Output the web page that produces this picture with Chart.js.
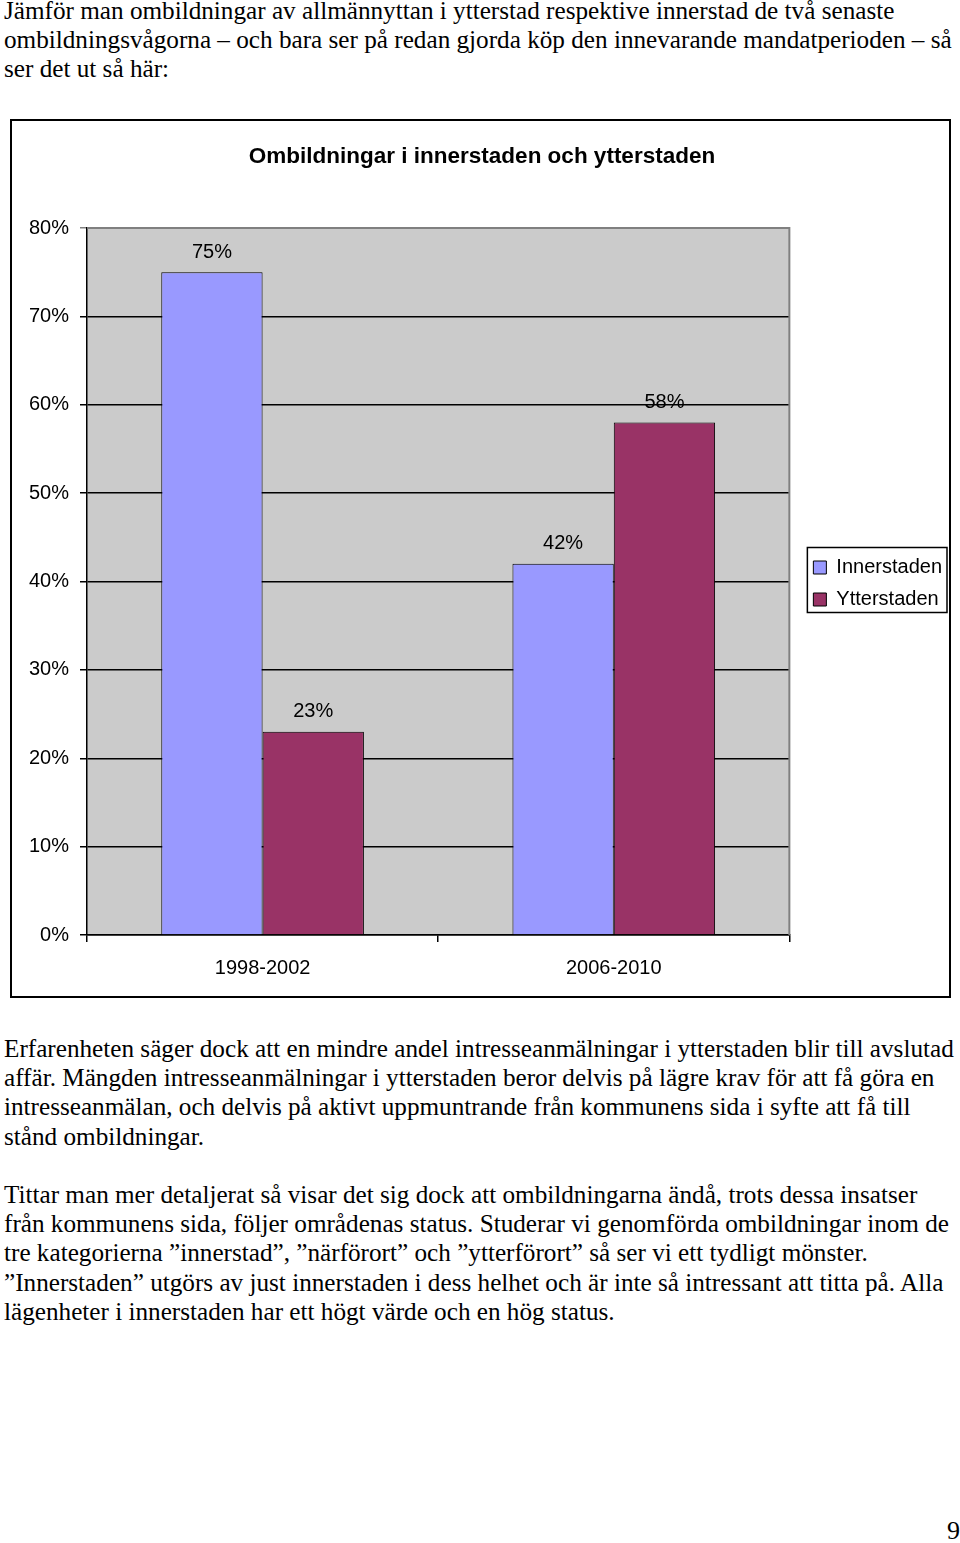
<!DOCTYPE html>
<html lang="sv">
<head>
<meta charset="utf-8">
<title>Ombildningar i innerstaden och ytterstaden</title>
<script src="https://cdn.jsdelivr.net/npm/chart.js@4.4.1/dist/chart.umd.min.js"></script>
<style>
    html, body { margin: 0; padding: 0; background: #fff; }
    body { width: 960px; height: 1543px; position: relative; overflow: hidden; }
    .txt {
        position: absolute; left: 4px;
        font-family: "Liberation Serif", "Times New Roman", serif;
        font-size: 25.2px; line-height: 29.2px; color: #000;
        white-space: nowrap;
    }
    #box {
        position: absolute; left: 10px; top: 119px;
        width: 941px; height: 879px;
        border: 2px solid #000; box-sizing: border-box;
    }
    #box canvas { display: block; }
    #pagenr {
        position: absolute; left: 947px; top: 1516px;
        font-family: "Liberation Serif", serif; font-size: 26px;
    }
</style>
</head>
<body>
<div class="txt" style="top:-4px">
    Jämför man ombildningar av allmännyttan i ytterstad respektive innerstad de två senaste<br>
    ombildningsvågorna – och bara ser på redan gjorda köp den innevarande mandatperioden – så<br>
    ser det ut så här:
</div>

<div id="box"><canvas id="chart" width="937" height="875"></canvas></div>

<div class="txt" style="top:1034px">
    Erfarenheten säger dock att en mindre andel intresseanmälningar i ytterstaden blir till avslutad<br>
    affär. Mängden intresseanmälningar i ytterstaden beror delvis på lägre krav för att få göra en<br>
    intresseanmälan, och delvis på aktivt uppmuntrande från kommunens sida i syfte att få till<br>
    stånd ombildningar.
</div>

<div class="txt" style="top:1180px">
    Tittar man mer detaljerat så visar det sig dock att ombildningarna ändå, trots dessa insatser<br>
    från kommunens sida, följer områdenas status. Studerar vi genomförda ombildningar inom de<br>
    tre kategorierna ”innerstad”, ”närförort” och ”ytterförort” så ser vi ett tydligt mönster.<br>
    ”Innerstaden” utgörs av just innerstaden i dess helhet och är inte så intressant att titta på. Alla<br>
    lägenheter i innerstaden har ett högt värde och en hög status.
</div>

<div id="pagenr">9</div>

<script>
const periods = ["1998-2002", "2006-2010"];
const innerstaden = [75, 42];
const ytterstaden = [23, 58];
const yTicks = [0, 10, 20, 30, 40, 50, 60, 70, 80];

const FONT = "'Liberation Sans', Arial, sans-serif";

// grey plot area with grey top/right frame, as in the old Excel chart
const plotBackground = {
    id: "plotBackground",
    beforeDraw(chart) {
        const { ctx, chartArea: a } = chart;
        ctx.save();
        ctx.fillStyle = "#cbcbcb";
        ctx.fillRect(a.left, a.top, a.right - a.left, a.bottom - a.top);
        ctx.restore();
    },
    beforeDatasetsDraw(chart) {
        const { ctx, chartArea: a } = chart;
        ctx.save();
        ctx.strokeStyle = "#808080";
        ctx.lineWidth = 2;
        ctx.beginPath();
        ctx.moveTo(a.left, a.top);
        ctx.lineTo(a.right, a.top);
        ctx.lineTo(a.right, a.bottom);
        ctx.stroke();
        ctx.restore();
    }
};

const barLabels = {
    id: "barLabels",
    afterDatasetsDraw(chart) {
        const { ctx } = chart;
        ctx.save();
        ctx.font = "20px " + FONT;
        ctx.fillStyle = "#000";
        ctx.textAlign = "center";
        ctx.textBaseline = "middle";
        chart.data.datasets.forEach((ds, i) => {
            chart.getDatasetMeta(i).data.forEach((bar, j) => {
                ctx.fillText(ds.data[j] + "%", bar.x, bar.y - 20);
            });
        });
        ctx.restore();
    }
};

// nudge title and legend into place and draw a frame round the legend
const legendFrame = {
    id: "legendFrame",
    afterLayout(chart) {
        const lg = chart.legend;
        const dx = 12, dy = 26;
        lg.left += dx; lg.right += dx;
        lg.top += dy; lg.bottom += dy;
        const tb = chart.titleBlock;
        if (tb) { tb.left += 6; tb.right += 6; }
    },
    afterDraw(chart) {
        const lg = chart.legend;
        if (!lg || !lg.legendHitBoxes.length) return;
        const boxes = lg.legendHitBoxes;
        const x0 = Math.min(...boxes.map(b => b.left)) - 6;
        const y0 = Math.min(...boxes.map(b => b.top)) - 10;
        const x1 = Math.max(...boxes.map(b => b.left + b.width)) + 5;
        const y1 = Math.max(...boxes.map(b => b.top + b.height)) + 3;
        const ctx = chart.ctx;
        ctx.save();
        ctx.strokeStyle = "#000";
        ctx.lineWidth = 1.5;
        ctx.strokeRect(x0, y0, x1 - x0, y1 - y0);
        ctx.restore();
    }
};

new Chart(document.getElementById("chart"), {
    type: "bar",
    data: {
        labels: periods,
        datasets: [
            {
                label: "Innerstaden",
                data: innerstaden,
                backgroundColor: "#9999ff",
                borderColor: "#000",
                borderWidth: 1
            },
            {
                label: "Ytterstaden",
                data: ytterstaden,
                backgroundColor: "#993366",
                borderColor: "#000",
                borderWidth: 1
            }
        ]
    },
    options: {
        responsive: false,
        animation: false,
        layout: { padding: { left: 0, right: 9, top: 0, bottom: 2 } },
        datasets: {
            bar: { categoryPercentage: 0.577, barPercentage: 1 }
        },
        plugins: {
            title: {
                display: true,
                text: "Ombildningar i innerstaden och ytterstaden",
                color: "#000",
                font: { family: FONT, size: 22.5, weight: "bold" },
                padding: { top: 22.5, bottom: 57.5 }
            },
            legend: {
                position: "right",
                labels: {
                    color: "#000",
                    font: { family: FONT, size: 20 },
                    boxWidth: 13,
                    boxHeight: 13,
                    padding: 12,
                    useBorderRadius: false
                }
            },
            tooltip: { enabled: false }
        },
        scales: {
            x: {
                offset: true,
                grid: {
                    offset: true,
                    drawOnChartArea: false,
                    drawTicks: true,
                    tickLength: 7,
                    color: "#000",
                    lineWidth: 1.5
                },
                border: { color: "#000", width: 1.5 },
                ticks: {
                    color: "#000",
                    padding: 14,
                    font: { family: FONT, size: 20 }
                }
            },
            y: {
                min: 0,
                max: 80,
                afterFit(scale) { scale.width = 75; },
                afterBuildTicks(scale) { scale.ticks = yTicks.map(v => ({ value: v })); },
                grid: {
                    color: ctx => ctx.tick && ctx.tick.value === 80 ? "#808080" : "#000",
                    lineWidth: 1.5,
                    tickLength: 7
                },
                border: { color: "#000", width: 1.5 },
                ticks: {
                    color: "#000",
                    padding: 11,
                    font: { family: FONT, size: 20 },
                    callback: v => v + "%"
                }
            }
        }
    },
    plugins: [plotBackground, barLabels, legendFrame]
});
</script>
</body>
</html>
